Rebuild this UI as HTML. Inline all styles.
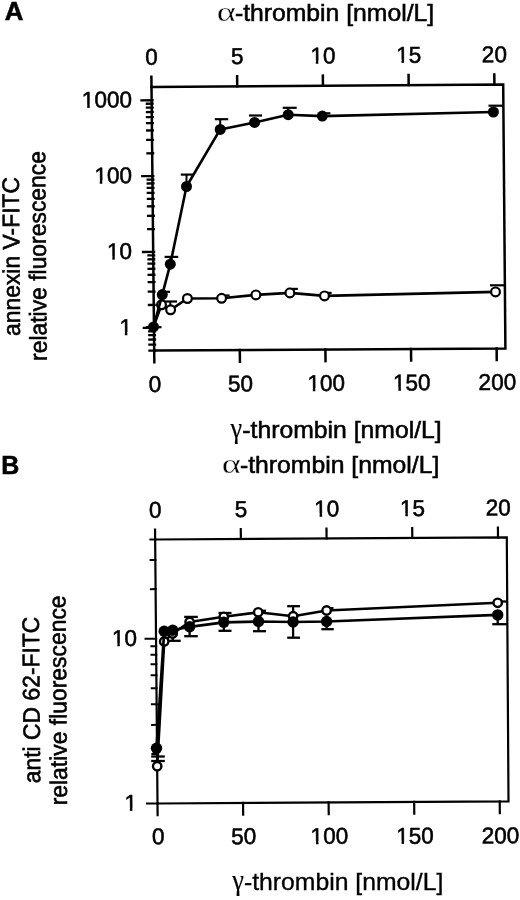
<!DOCTYPE html>
<html lang="en"><head><meta charset="utf-8"><title>Figure</title>
<style>html,body{margin:0;padding:0;background:#fff}svg{display:block}text{font-family:"Liberation Sans", Arial, Helvetica, sans-serif;fill:#000;stroke:#000;stroke-width:0.55px}</style>
</head><body>
<svg width="520" height="900" viewBox="0 0 520 900">
<rect width="520" height="900" fill="#fff"/>
<polygon points="151.50,86.90 503.20,84.40 505.40,348.50 154.20,350.60" fill="none" stroke="#000" stroke-width="2.50" stroke-linejoin="miter"/>
<line x1="151.51" y1="88.15" x2="151.38" y2="75.60" stroke="#000" stroke-width="2.50" stroke-linecap="butt"/>
<line x1="154.19" y1="349.35" x2="154.33" y2="363.40" stroke="#000" stroke-width="2.50" stroke-linecap="butt"/>
<line x1="237.24" y1="87.54" x2="237.11" y2="74.99" stroke="#000" stroke-width="2.50" stroke-linecap="butt"/>
<line x1="239.79" y1="348.84" x2="239.94" y2="362.89" stroke="#000" stroke-width="2.50" stroke-linecap="butt"/>
<line x1="322.97" y1="86.93" x2="322.84" y2="74.38" stroke="#000" stroke-width="2.50" stroke-linecap="butt"/>
<line x1="325.40" y1="348.33" x2="325.54" y2="362.38" stroke="#000" stroke-width="2.50" stroke-linecap="butt"/>
<line x1="408.69" y1="86.32" x2="408.56" y2="73.77" stroke="#000" stroke-width="2.50" stroke-linecap="butt"/>
<line x1="411.00" y1="347.81" x2="411.15" y2="361.86" stroke="#000" stroke-width="2.50" stroke-linecap="butt"/>
<line x1="494.42" y1="85.71" x2="494.29" y2="73.16" stroke="#000" stroke-width="2.50" stroke-linecap="butt"/>
<line x1="496.61" y1="347.30" x2="496.75" y2="361.35" stroke="#000" stroke-width="2.50" stroke-linecap="butt"/>
<line x1="156.25" y1="350.59" x2="148.30" y2="350.64" stroke="#000" stroke-width="2.30" stroke-linecap="butt"/>
<line x1="156.19" y1="344.58" x2="148.24" y2="344.64" stroke="#000" stroke-width="2.30" stroke-linecap="butt"/>
<line x1="156.14" y1="339.50" x2="148.19" y2="339.56" stroke="#000" stroke-width="2.30" stroke-linecap="butt"/>
<line x1="156.09" y1="335.11" x2="148.14" y2="335.16" stroke="#000" stroke-width="2.30" stroke-linecap="butt"/>
<line x1="156.05" y1="331.23" x2="148.10" y2="331.28" stroke="#000" stroke-width="2.30" stroke-linecap="butt"/>
<line x1="156.02" y1="327.76" x2="142.67" y2="327.85" stroke="#000" stroke-width="2.30" stroke-linecap="butt"/>
<line x1="155.78" y1="304.93" x2="147.83" y2="304.98" stroke="#000" stroke-width="2.30" stroke-linecap="butt"/>
<line x1="155.65" y1="291.57" x2="147.70" y2="291.63" stroke="#000" stroke-width="2.30" stroke-linecap="butt"/>
<line x1="155.55" y1="282.10" x2="147.60" y2="282.15" stroke="#000" stroke-width="2.30" stroke-linecap="butt"/>
<line x1="155.47" y1="274.75" x2="147.52" y2="274.80" stroke="#000" stroke-width="2.30" stroke-linecap="butt"/>
<line x1="155.41" y1="268.74" x2="147.46" y2="268.80" stroke="#000" stroke-width="2.30" stroke-linecap="butt"/>
<line x1="155.36" y1="263.66" x2="147.41" y2="263.72" stroke="#000" stroke-width="2.30" stroke-linecap="butt"/>
<line x1="155.31" y1="259.27" x2="147.37" y2="259.32" stroke="#000" stroke-width="2.30" stroke-linecap="butt"/>
<line x1="155.28" y1="255.39" x2="147.33" y2="255.44" stroke="#000" stroke-width="2.30" stroke-linecap="butt"/>
<line x1="155.24" y1="251.92" x2="141.89" y2="252.01" stroke="#000" stroke-width="2.30" stroke-linecap="butt"/>
<line x1="155.01" y1="229.09" x2="147.06" y2="229.14" stroke="#000" stroke-width="2.30" stroke-linecap="butt"/>
<line x1="154.87" y1="215.73" x2="146.92" y2="215.79" stroke="#000" stroke-width="2.30" stroke-linecap="butt"/>
<line x1="154.77" y1="206.26" x2="146.82" y2="206.31" stroke="#000" stroke-width="2.30" stroke-linecap="butt"/>
<line x1="154.70" y1="198.91" x2="146.75" y2="198.96" stroke="#000" stroke-width="2.30" stroke-linecap="butt"/>
<line x1="154.64" y1="192.90" x2="146.69" y2="192.96" stroke="#000" stroke-width="2.30" stroke-linecap="butt"/>
<line x1="154.58" y1="187.83" x2="146.63" y2="187.88" stroke="#000" stroke-width="2.30" stroke-linecap="butt"/>
<line x1="154.54" y1="183.43" x2="146.59" y2="183.48" stroke="#000" stroke-width="2.30" stroke-linecap="butt"/>
<line x1="154.50" y1="179.55" x2="146.55" y2="179.61" stroke="#000" stroke-width="2.30" stroke-linecap="butt"/>
<line x1="154.46" y1="176.08" x2="141.11" y2="176.17" stroke="#000" stroke-width="2.30" stroke-linecap="butt"/>
<line x1="154.23" y1="153.25" x2="146.28" y2="153.31" stroke="#000" stroke-width="2.30" stroke-linecap="butt"/>
<line x1="154.09" y1="139.89" x2="146.14" y2="139.95" stroke="#000" stroke-width="2.30" stroke-linecap="butt"/>
<line x1="154.00" y1="130.42" x2="146.05" y2="130.48" stroke="#000" stroke-width="2.30" stroke-linecap="butt"/>
<line x1="153.92" y1="123.07" x2="145.97" y2="123.13" stroke="#000" stroke-width="2.30" stroke-linecap="butt"/>
<line x1="153.86" y1="117.06" x2="145.91" y2="117.12" stroke="#000" stroke-width="2.30" stroke-linecap="butt"/>
<line x1="153.81" y1="111.99" x2="145.86" y2="112.04" stroke="#000" stroke-width="2.30" stroke-linecap="butt"/>
<line x1="153.76" y1="107.59" x2="145.81" y2="107.65" stroke="#000" stroke-width="2.30" stroke-linecap="butt"/>
<line x1="153.72" y1="103.71" x2="145.77" y2="103.77" stroke="#000" stroke-width="2.30" stroke-linecap="butt"/>
<line x1="153.69" y1="100.24" x2="140.34" y2="100.33" stroke="#000" stroke-width="2.30" stroke-linecap="butt"/>
<polygon points="155.15,539.50 506.80,537.30 508.50,801.30 157.50,803.50" fill="none" stroke="#000" stroke-width="2.20" stroke-linejoin="miter"/>
<line x1="155.16" y1="540.60" x2="155.05" y2="528.60" stroke="#000" stroke-width="2.20" stroke-linecap="butt"/>
<line x1="157.49" y1="802.40" x2="157.61" y2="816.30" stroke="#000" stroke-width="2.20" stroke-linecap="butt"/>
<line x1="240.87" y1="540.06" x2="240.77" y2="528.06" stroke="#000" stroke-width="2.20" stroke-linecap="butt"/>
<line x1="243.05" y1="801.86" x2="243.17" y2="815.76" stroke="#000" stroke-width="2.20" stroke-linecap="butt"/>
<line x1="326.59" y1="539.53" x2="326.48" y2="527.53" stroke="#000" stroke-width="2.20" stroke-linecap="butt"/>
<line x1="328.60" y1="801.33" x2="328.73" y2="815.23" stroke="#000" stroke-width="2.20" stroke-linecap="butt"/>
<line x1="412.30" y1="538.99" x2="412.20" y2="526.99" stroke="#000" stroke-width="2.20" stroke-linecap="butt"/>
<line x1="414.16" y1="800.79" x2="414.28" y2="814.69" stroke="#000" stroke-width="2.20" stroke-linecap="butt"/>
<line x1="498.02" y1="538.45" x2="497.91" y2="526.46" stroke="#000" stroke-width="2.20" stroke-linecap="butt"/>
<line x1="499.72" y1="800.26" x2="499.84" y2="814.15" stroke="#000" stroke-width="2.20" stroke-linecap="butt"/>
<line x1="158.60" y1="803.49" x2="146.00" y2="803.57" stroke="#000" stroke-width="2.00" stroke-linecap="butt"/>
<line x1="158.16" y1="753.89" x2="151.36" y2="753.93" stroke="#000" stroke-width="2.00" stroke-linecap="butt"/>
<line x1="157.90" y1="724.87" x2="151.10" y2="724.91" stroke="#000" stroke-width="2.00" stroke-linecap="butt"/>
<line x1="157.72" y1="704.28" x2="150.92" y2="704.32" stroke="#000" stroke-width="2.00" stroke-linecap="butt"/>
<line x1="157.57" y1="688.31" x2="150.77" y2="688.35" stroke="#000" stroke-width="2.00" stroke-linecap="butt"/>
<line x1="157.46" y1="675.26" x2="150.66" y2="675.31" stroke="#000" stroke-width="2.00" stroke-linecap="butt"/>
<line x1="157.36" y1="664.23" x2="150.56" y2="664.27" stroke="#000" stroke-width="2.00" stroke-linecap="butt"/>
<line x1="157.28" y1="654.67" x2="150.48" y2="654.72" stroke="#000" stroke-width="2.00" stroke-linecap="butt"/>
<line x1="157.20" y1="646.25" x2="150.40" y2="646.29" stroke="#000" stroke-width="2.00" stroke-linecap="butt"/>
<line x1="157.13" y1="638.71" x2="144.53" y2="638.78" stroke="#000" stroke-width="2.00" stroke-linecap="butt"/>
<line x1="156.69" y1="589.10" x2="149.89" y2="589.14" stroke="#000" stroke-width="2.00" stroke-linecap="butt"/>
<line x1="156.43" y1="560.08" x2="149.63" y2="560.12" stroke="#000" stroke-width="2.00" stroke-linecap="butt"/>
<line x1="156.25" y1="539.49" x2="149.45" y2="539.54" stroke="#000" stroke-width="2.00" stroke-linecap="butt"/>
<text transform="translate(151.50 64.60) rotate(-0.400) scale(0.985 1)" font-size="22.90" text-anchor="middle">0</text>
<text transform="translate(237.23 63.99) rotate(-0.400) scale(0.985 1)" font-size="22.90" text-anchor="middle">5</text>
<g transform="translate(322.95 63.38) rotate(-0.400) scale(0.985 1)">
<text font-size="22.90" text-anchor="middle">10</text>
<rect x="-12.19" y="-3.01" width="4.94" height="4.11" fill="#fff"/>
<rect x="-4.68" y="-3.01" width="4.77" height="4.11" fill="#fff"/>
</g>
<g transform="translate(408.68 62.77) rotate(-0.400) scale(0.985 1)">
<text font-size="22.90" text-anchor="middle">15</text>
<rect x="-12.19" y="-3.01" width="4.94" height="4.11" fill="#fff"/>
<rect x="-4.68" y="-3.01" width="4.77" height="4.11" fill="#fff"/>
</g>
<text transform="translate(494.41 62.16) rotate(-0.400) scale(0.985 1)" font-size="22.90" text-anchor="middle">20</text>
<text transform="translate(155.00 391.90) rotate(-0.400) scale(0.985 1)" font-size="22.90" text-anchor="middle">0</text>
<text transform="translate(240.60 391.39) rotate(-0.400) scale(0.985 1)" font-size="22.90" text-anchor="middle">50</text>
<g transform="translate(326.21 390.88) rotate(-0.400) scale(0.985 1)">
<text font-size="22.90" text-anchor="middle">100</text>
<rect x="-18.56" y="-3.01" width="4.94" height="4.11" fill="#fff"/>
<rect x="-11.05" y="-3.01" width="4.77" height="4.11" fill="#fff"/>
</g>
<g transform="translate(411.81 390.36) rotate(-0.400) scale(0.985 1)">
<text font-size="22.90" text-anchor="middle">150</text>
<rect x="-18.56" y="-3.01" width="4.94" height="4.11" fill="#fff"/>
<rect x="-11.05" y="-3.01" width="4.77" height="4.11" fill="#fff"/>
</g>
<text transform="translate(497.42 389.85) rotate(-0.400) scale(0.985 1)" font-size="22.90" text-anchor="middle">200</text>
<text transform="translate(155.35 517.60) rotate(-0.400) scale(0.985 1)" font-size="22.90" text-anchor="middle">0</text>
<text transform="translate(241.06 517.06) rotate(-0.400) scale(0.985 1)" font-size="22.90" text-anchor="middle">5</text>
<g transform="translate(326.78 516.53) rotate(-0.400) scale(0.985 1)">
<text font-size="22.90" text-anchor="middle">10</text>
<rect x="-12.19" y="-3.01" width="4.94" height="4.11" fill="#fff"/>
<rect x="-4.68" y="-3.01" width="4.77" height="4.11" fill="#fff"/>
</g>
<g transform="translate(412.49 515.99) rotate(-0.400) scale(0.985 1)">
<text font-size="22.90" text-anchor="middle">15</text>
<rect x="-12.19" y="-3.01" width="4.94" height="4.11" fill="#fff"/>
<rect x="-4.68" y="-3.01" width="4.77" height="4.11" fill="#fff"/>
</g>
<text transform="translate(498.21 515.46) rotate(-0.400) scale(0.985 1)" font-size="22.90" text-anchor="middle">20</text>
<text transform="translate(158.30 844.30) rotate(-0.400) scale(0.985 1)" font-size="22.90" text-anchor="middle">0</text>
<text transform="translate(243.86 844.06) rotate(-0.400) scale(0.985 1)" font-size="22.90" text-anchor="middle">50</text>
<g transform="translate(329.41 843.83) rotate(-0.400) scale(0.985 1)">
<text font-size="22.90" text-anchor="middle">100</text>
<rect x="-18.56" y="-3.01" width="4.94" height="4.11" fill="#fff"/>
<rect x="-11.05" y="-3.01" width="4.77" height="4.11" fill="#fff"/>
</g>
<g transform="translate(414.97 843.59) rotate(-0.400) scale(0.985 1)">
<text font-size="22.90" text-anchor="middle">150</text>
<rect x="-18.56" y="-3.01" width="4.94" height="4.11" fill="#fff"/>
<rect x="-11.05" y="-3.01" width="4.77" height="4.11" fill="#fff"/>
</g>
<text transform="translate(500.52 843.35) rotate(-0.400) scale(0.985 1)" font-size="22.90" text-anchor="middle">200</text>
<g transform="translate(132.00 107.35) rotate(-0.400) scale(0.985 1)">
<text font-size="22.90" text-anchor="end">1000</text>
<rect x="-50.40" y="-3.01" width="4.94" height="4.11" fill="#fff"/>
<rect x="-42.89" y="-3.01" width="4.77" height="4.11" fill="#fff"/>
</g>
<g transform="translate(132.00 183.19) rotate(-0.400) scale(0.985 1)">
<text font-size="22.90" text-anchor="end">100</text>
<rect x="-37.66" y="-3.01" width="4.94" height="4.11" fill="#fff"/>
<rect x="-30.16" y="-3.01" width="4.77" height="4.11" fill="#fff"/>
</g>
<g transform="translate(132.00 259.03) rotate(-0.400) scale(0.985 1)">
<text font-size="22.90" text-anchor="end">10</text>
<rect x="-24.93" y="-3.01" width="4.94" height="4.11" fill="#fff"/>
<rect x="-17.42" y="-3.01" width="4.77" height="4.11" fill="#fff"/>
</g>
<g transform="translate(132.00 334.87) rotate(-0.400) scale(0.985 1)">
<text font-size="22.90" text-anchor="end">1</text>
<rect x="-12.19" y="-3.01" width="4.94" height="4.11" fill="#fff"/>
<rect x="-4.68" y="-3.01" width="4.77" height="4.11" fill="#fff"/>
</g>
<g transform="translate(137.00 645.91) rotate(-0.400) scale(0.985 1)">
<text font-size="22.90" text-anchor="end">10</text>
<rect x="-24.93" y="-3.01" width="4.94" height="4.11" fill="#fff"/>
<rect x="-17.42" y="-3.01" width="4.77" height="4.11" fill="#fff"/>
</g>
<g transform="translate(137.00 810.70) rotate(-0.400) scale(0.985 1)">
<text font-size="22.90" text-anchor="end">1</text>
<rect x="-12.19" y="-3.01" width="4.94" height="4.11" fill="#fff"/>
<rect x="-4.68" y="-3.01" width="4.77" height="4.11" fill="#fff"/>
</g>
<text transform="translate(14.10 20.00)" font-size="25.80" text-anchor="middle" font-weight="bold">A</text>
<text transform="translate(10.30 474.30) scale(0.970 1)" font-size="25.80" text-anchor="middle" font-weight="bold">B</text>
<text transform="translate(19.50 256.50) rotate(-0.450) scale(1.045 1) rotate(-90)" font-size="22.90" text-anchor="middle">annexin V-FITC</text>
<text transform="translate(45.90 256.00) rotate(-0.450) scale(1.045 1) rotate(-90)" font-size="22.90" text-anchor="middle">relative fluorescence</text>
<text transform="translate(39.60 699.90) rotate(-0.450) scale(1.045 1) rotate(-90)" font-size="22.90" text-anchor="middle">anti CD 62-FITC</text>
<text transform="translate(66.30 700.40) rotate(-0.450) scale(1.045 1) rotate(-90)" font-size="22.90" text-anchor="middle">relative fluorescence</text>
<text transform="translate(434.23 21.30) scale(1.044 1)" font-size="23.70" text-anchor="end">-thrombin [nmol/L]</text>
<text transform="translate(235.74 21.30) scale(1.300 1)" font-size="28.00" text-anchor="end" style="font-family:'Liberation Serif',serif;stroke:#fff;stroke-width:0.3px">α</text>
<text transform="translate(441.63 438.40) scale(1.044 1)" font-size="23.70" text-anchor="end">-thrombin [nmol/L]</text>
<text transform="translate(242.14 438.40) scale(0.890 1)" font-size="29.50" text-anchor="end" style="font-family:'Liberation Serif',serif;stroke-width:0.2px">γ</text>
<text transform="translate(439.33 473.40) scale(1.044 1)" font-size="23.70" text-anchor="end">-thrombin [nmol/L]</text>
<text transform="translate(240.84 473.40) scale(1.300 1)" font-size="28.00" text-anchor="end" style="font-family:'Liberation Serif',serif;stroke:#fff;stroke-width:0.3px">α</text>
<text transform="translate(443.33 889.60) scale(1.044 1)" font-size="23.70" text-anchor="end" style="stroke-width:0.35px">-thrombin [nmol/L]</text>
<text transform="translate(243.84 889.60) scale(0.890 1)" font-size="29.50" text-anchor="end" style="font-family:'Liberation Serif',serif;stroke-width:0.2px">γ</text>
<line x1="163.50" y1="301.50" x2="177.10" y2="301.50" stroke="#000" stroke-width="2.20" stroke-linecap="butt"/>
<line x1="170.30" y1="301.50" x2="170.30" y2="309.20" stroke="#000" stroke-width="2.00" stroke-linecap="butt"/>
<line x1="221.60" y1="295.50" x2="229.60" y2="295.50" stroke="#000" stroke-width="2.20" stroke-linecap="butt"/>
<line x1="287.50" y1="288.90" x2="297.90" y2="288.90" stroke="#000" stroke-width="2.20" stroke-linecap="butt"/>
<line x1="289.90" y1="288.90" x2="289.90" y2="292.90" stroke="#000" stroke-width="2.00" stroke-linecap="butt"/>
<line x1="324.50" y1="292.90" x2="331.60" y2="292.90" stroke="#000" stroke-width="2.20" stroke-linecap="butt"/>
<line x1="490.00" y1="285.30" x2="504.00" y2="285.30" stroke="#000" stroke-width="2.20" stroke-linecap="butt"/>
<polyline fill="none" stroke="#000" stroke-width="2.60" stroke-linejoin="round" points="153.5,326.9 161.5,304.8 170.6,309.8 187.4,298.5 221.6,298.3 255.9,294.9 289.9,292.9 324.5,295.9 495.5,291.9"/>
<circle cx="161.5" cy="304.8" r="4.40" fill="#fff" stroke="#000" stroke-width="2.20"/>
<circle cx="170.6" cy="309.8" r="4.40" fill="#fff" stroke="#000" stroke-width="2.20"/>
<circle cx="187.4" cy="298.5" r="4.40" fill="#fff" stroke="#000" stroke-width="2.20"/>
<circle cx="221.6" cy="298.3" r="4.40" fill="#fff" stroke="#000" stroke-width="2.20"/>
<circle cx="255.9" cy="294.9" r="4.40" fill="#fff" stroke="#000" stroke-width="2.20"/>
<circle cx="289.9" cy="292.9" r="4.40" fill="#fff" stroke="#000" stroke-width="2.20"/>
<circle cx="324.5" cy="295.9" r="4.40" fill="#fff" stroke="#000" stroke-width="2.20"/>
<circle cx="495.5" cy="291.9" r="4.40" fill="#fff" stroke="#000" stroke-width="2.20"/>
<line x1="146.00" y1="327.20" x2="161.50" y2="327.20" stroke="#000" stroke-width="2.20" stroke-linecap="butt"/>
<line x1="162.30" y1="291.80" x2="170.00" y2="291.80" stroke="#000" stroke-width="2.20" stroke-linecap="butt"/>
<line x1="164.60" y1="256.90" x2="178.20" y2="256.90" stroke="#000" stroke-width="2.20" stroke-linecap="butt"/>
<line x1="170.30" y1="256.90" x2="170.30" y2="264.20" stroke="#000" stroke-width="2.00" stroke-linecap="butt"/>
<line x1="180.80" y1="174.60" x2="193.80" y2="174.60" stroke="#000" stroke-width="2.20" stroke-linecap="butt"/>
<line x1="186.50" y1="174.60" x2="186.50" y2="186.50" stroke="#000" stroke-width="2.00" stroke-linecap="butt"/>
<line x1="214.80" y1="119.20" x2="228.20" y2="119.20" stroke="#000" stroke-width="2.20" stroke-linecap="butt"/>
<line x1="220.20" y1="119.20" x2="220.20" y2="129.40" stroke="#000" stroke-width="2.00" stroke-linecap="butt"/>
<line x1="249.00" y1="115.50" x2="262.00" y2="115.50" stroke="#000" stroke-width="2.20" stroke-linecap="butt"/>
<line x1="282.70" y1="107.80" x2="296.70" y2="107.80" stroke="#000" stroke-width="2.20" stroke-linecap="butt"/>
<line x1="288.20" y1="107.80" x2="288.20" y2="114.70" stroke="#000" stroke-width="2.00" stroke-linecap="butt"/>
<line x1="322.30" y1="113.30" x2="330.40" y2="113.30" stroke="#000" stroke-width="2.20" stroke-linecap="butt"/>
<line x1="488.50" y1="105.70" x2="503.20" y2="105.70" stroke="#000" stroke-width="2.20" stroke-linecap="butt"/>
<polyline fill="none" stroke="#000" stroke-width="2.60" stroke-linejoin="round" points="153.5,326.9 162.3,294.6 170.3,264.2 186.5,186.5 220.2,129.4 254.6,122.4 288.2,114.7 322.3,116.1 493.4,112.0"/>
<circle cx="153.5" cy="326.9" r="5.50" fill="#000"/>
<circle cx="162.3" cy="294.6" r="5.50" fill="#000"/>
<circle cx="170.3" cy="264.2" r="5.50" fill="#000"/>
<circle cx="186.5" cy="186.5" r="5.50" fill="#000"/>
<circle cx="220.2" cy="129.4" r="5.50" fill="#000"/>
<circle cx="254.6" cy="122.4" r="5.50" fill="#000"/>
<circle cx="288.2" cy="114.7" r="5.50" fill="#000"/>
<circle cx="322.3" cy="116.1" r="5.50" fill="#000"/>
<circle cx="493.4" cy="112.0" r="5.50" fill="#000"/>
<line x1="151.20" y1="756.50" x2="164.80" y2="756.50" stroke="#000" stroke-width="2.30" stroke-linecap="butt"/>
<line x1="151.20" y1="761.00" x2="164.80" y2="761.00" stroke="#000" stroke-width="2.30" stroke-linecap="butt"/>
<line x1="168.70" y1="640.80" x2="180.70" y2="640.80" stroke="#000" stroke-width="2.30" stroke-linecap="butt"/>
<line x1="172.70" y1="633.00" x2="172.70" y2="640.80" stroke="#000" stroke-width="2.30" stroke-linecap="butt"/>
<line x1="184.20" y1="616.90" x2="197.80" y2="616.90" stroke="#000" stroke-width="2.30" stroke-linecap="butt"/>
<line x1="184.20" y1="636.20" x2="197.80" y2="636.20" stroke="#000" stroke-width="2.30" stroke-linecap="butt"/>
<line x1="189.60" y1="616.90" x2="189.60" y2="636.20" stroke="#000" stroke-width="2.30" stroke-linecap="butt"/>
<line x1="218.50" y1="613.00" x2="231.50" y2="613.00" stroke="#000" stroke-width="2.30" stroke-linecap="butt"/>
<line x1="218.50" y1="630.80" x2="231.50" y2="630.80" stroke="#000" stroke-width="2.30" stroke-linecap="butt"/>
<line x1="223.80" y1="613.00" x2="223.80" y2="630.80" stroke="#000" stroke-width="2.30" stroke-linecap="butt"/>
<line x1="253.00" y1="631.20" x2="266.00" y2="631.20" stroke="#000" stroke-width="2.30" stroke-linecap="butt"/>
<line x1="258.50" y1="621.00" x2="258.50" y2="631.20" stroke="#000" stroke-width="2.30" stroke-linecap="butt"/>
<line x1="258.20" y1="610.80" x2="266.00" y2="610.80" stroke="#000" stroke-width="2.30" stroke-linecap="butt"/>
<line x1="287.20" y1="606.20" x2="300.00" y2="606.20" stroke="#000" stroke-width="2.30" stroke-linecap="butt"/>
<line x1="287.20" y1="637.70" x2="300.00" y2="637.70" stroke="#000" stroke-width="2.30" stroke-linecap="butt"/>
<line x1="293.10" y1="606.20" x2="293.10" y2="637.70" stroke="#000" stroke-width="2.30" stroke-linecap="butt"/>
<line x1="321.40" y1="629.20" x2="333.80" y2="629.20" stroke="#000" stroke-width="2.30" stroke-linecap="butt"/>
<line x1="326.60" y1="621.00" x2="326.60" y2="629.20" stroke="#000" stroke-width="2.30" stroke-linecap="butt"/>
<line x1="326.60" y1="608.20" x2="333.50" y2="608.20" stroke="#000" stroke-width="2.30" stroke-linecap="butt"/>
<line x1="492.30" y1="624.20" x2="507.00" y2="624.20" stroke="#000" stroke-width="2.30" stroke-linecap="butt"/>
<line x1="497.70" y1="615.00" x2="497.70" y2="624.20" stroke="#000" stroke-width="2.30" stroke-linecap="butt"/>
<line x1="497.70" y1="601.50" x2="507.00" y2="601.50" stroke="#000" stroke-width="2.30" stroke-linecap="butt"/>
<polyline fill="none" stroke="#000" stroke-width="2.60" stroke-linejoin="round" points="157.2,766.3 164.2,641.5 172.7,633.5 189.6,622.0 223.8,616.8 258.2,612.3 293.1,616.2 326.6,610.5 497.7,602.8"/>
<circle cx="157.2" cy="766.3" r="4.20" fill="#fff" stroke="#000" stroke-width="2.40"/>
<circle cx="164.2" cy="641.5" r="4.20" fill="#fff" stroke="#000" stroke-width="2.40"/>
<circle cx="172.7" cy="633.5" r="4.20" fill="#fff" stroke="#000" stroke-width="2.40"/>
<circle cx="189.6" cy="622.0" r="4.20" fill="#fff" stroke="#000" stroke-width="2.40"/>
<circle cx="223.8" cy="616.8" r="4.20" fill="#fff" stroke="#000" stroke-width="2.40"/>
<circle cx="258.2" cy="612.3" r="4.20" fill="#fff" stroke="#000" stroke-width="2.40"/>
<circle cx="293.1" cy="616.2" r="4.20" fill="#fff" stroke="#000" stroke-width="2.40"/>
<circle cx="326.6" cy="610.5" r="4.20" fill="#fff" stroke="#000" stroke-width="2.40"/>
<circle cx="497.7" cy="602.8" r="4.20" fill="#fff" stroke="#000" stroke-width="2.40"/>
<polyline fill="none" stroke="#000" stroke-width="2.70" stroke-linejoin="round" points="156.5,748.3 164.2,631.2 172.7,630.3 189.6,626.8 223.8,622.3 258.5,621.5 293.1,622.0 326.6,621.5 497.7,614.9"/>
<circle cx="156.5" cy="748.3" r="5.70" fill="#000"/>
<circle cx="164.2" cy="631.2" r="5.70" fill="#000"/>
<circle cx="172.7" cy="630.3" r="5.70" fill="#000"/>
<circle cx="189.6" cy="626.8" r="5.70" fill="#000"/>
<circle cx="223.8" cy="622.3" r="5.70" fill="#000"/>
<circle cx="258.5" cy="621.5" r="5.70" fill="#000"/>
<circle cx="293.1" cy="622.0" r="5.70" fill="#000"/>
<circle cx="326.6" cy="621.5" r="5.70" fill="#000"/>
<circle cx="497.7" cy="614.9" r="5.70" fill="#000"/>
</svg></body></html>
